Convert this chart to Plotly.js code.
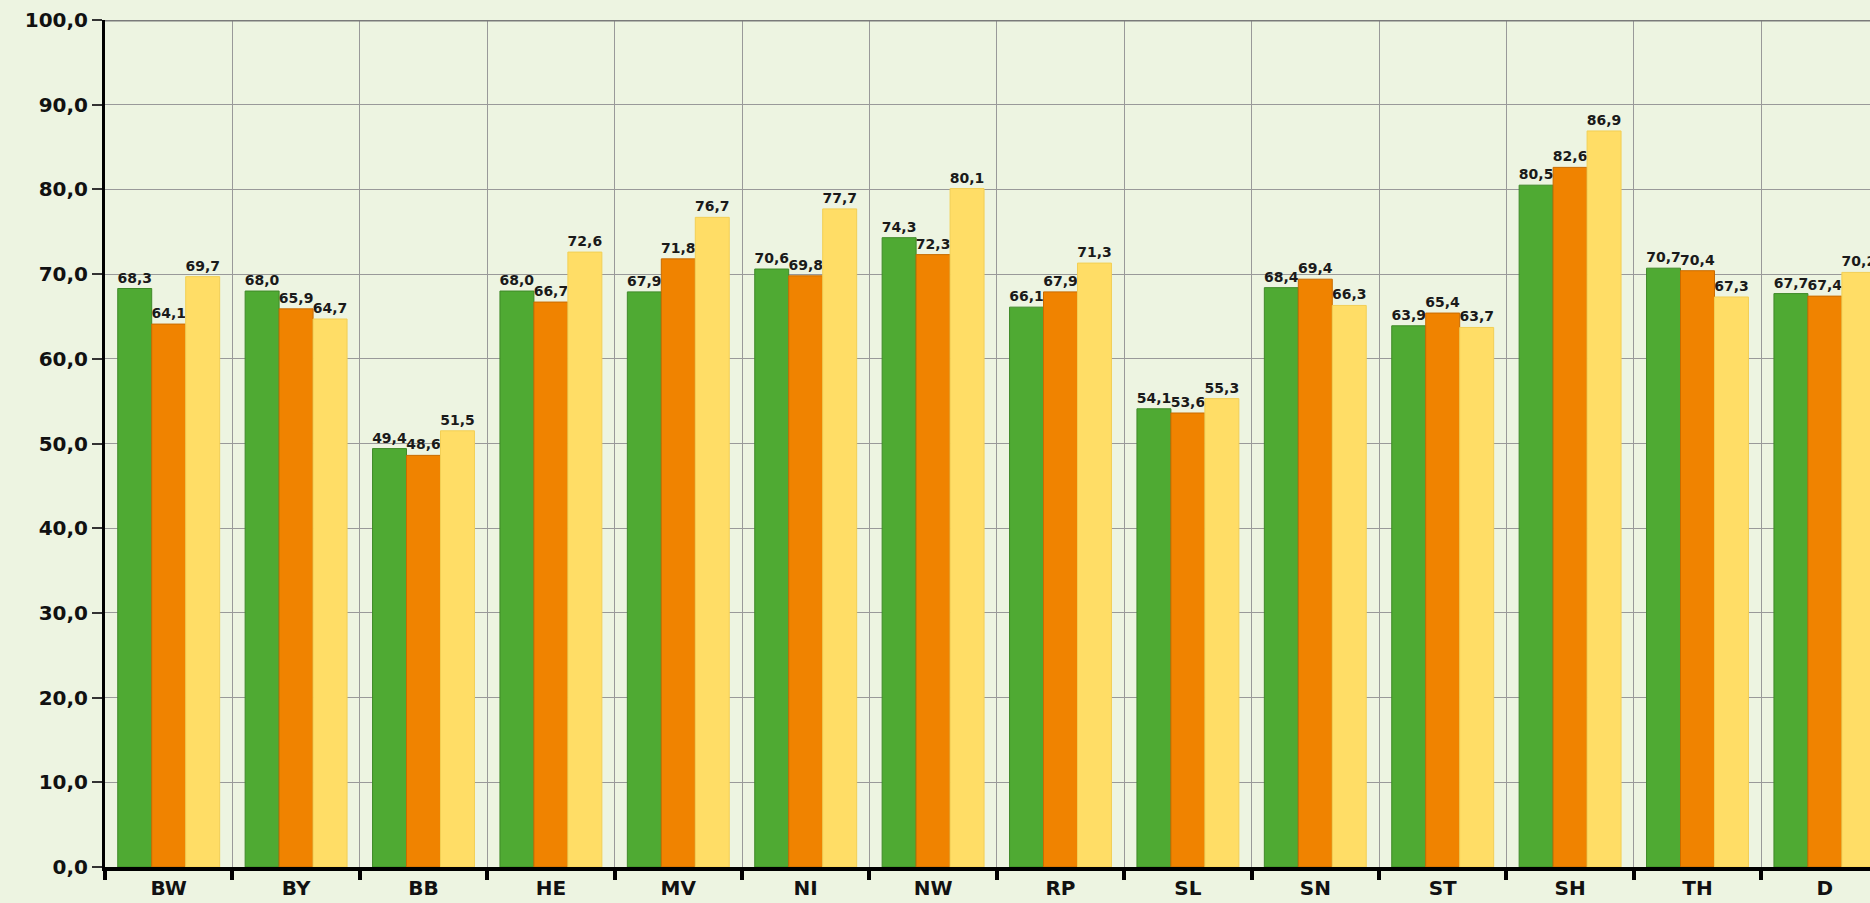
<!DOCTYPE html>
<html>
<head>
<meta charset="utf-8">
<script src="https://cdn.plot.ly/plotly-3.0.1.min.js"></script>
<style>
  html, body { margin: 0; padding: 0; background: #EDF4E1; overflow: hidden; }
  #chart { width: 1870px; height: 903px; }
</style>
</head>
<body>
<div id="chart"></div>
<script>
const categories = ["BW", "BY", "BB", "HE", "MV", "NI", "NW", "RP", "SL", "SN", "ST", "SH", "TH", "D"];
const seriesGreen  = [68.3, 68.0, 49.4, 68.0, 67.9, 70.6, 74.3, 66.1, 54.1, 68.4, 63.9, 80.5, 70.7, 67.7];
const seriesOrange = [64.1, 65.9, 48.6, 66.7, 71.8, 69.8, 72.3, 67.9, 53.6, 69.4, 65.4, 82.6, 70.4, 67.4];
const seriesYellow = [69.7, 64.7, 51.5, 72.6, 76.7, 77.7, 80.1, 71.3, 55.3, 66.3, 63.7, 86.9, 67.3, 70.2];
const yTicks = [0, 10, 20, 30, 40, 50, 60, 70, 80, 90, 100];

const labelFont = { family: "DejaVu Sans", size: 14, color: "#1a1a1a", weight: "bold" };

function barTrace(vals, fill, edge) {
  return {
    type: "bar",
    x: categories,
    y: vals,
    marker: { color: fill, line: { color: edge, width: 1 } },
    texttemplate: "%{y:.1f}",
    textposition: "outside",
    textfont: labelFont,
    constraintext: "none",
    cliponaxis: true,
    hoverinfo: "skip"
  };
}

const data = [
  barTrace(seriesGreen, "#4FAA33", "#3F8A28"),
  barTrace(seriesOrange, "#F08300", "#C96C00"),
  barTrace(seriesYellow, "#FFDD66", "#F2CF55")
];

const layout = {
  width: 1870,
  height: 903,
  paper_bgcolor: "#EDF4E1",
  plot_bgcolor: "#EDF4E1",
  separators: ",.",
  showlegend: false,
  barmode: "group",
  bargap: 0.2,
  bargroupgap: 0,
  margin: { l: 105, r: 0, t: 20, b: 36, pad: 0 },
  xaxis: {
    type: "category",
    range: [-0.5, 13.354],
    tickson: "boundaries",
    showgrid: true,
    gridcolor: "#999999",
    gridwidth: 1,
    showline: true,
    linecolor: "#000000",
    linewidth: 4,
    ticks: "outside",
    ticklen: 9,
    tickwidth: 4,
    tickcolor: "#000000",
    tickfont: { family: "DejaVu Sans", size: 20, color: "#111111", weight: "bold" },
    zeroline: false,
    fixedrange: true
  },
  yaxis: {
    range: [0, 100],
    tickvals: yTicks,
    tickformat: ".1f",
    showgrid: true,
    gridcolor: "#999999",
    gridwidth: 1,
    showline: true,
    linecolor: "#000000",
    linewidth: 3,
    ticks: "outside",
    ticklen: 10,
    tickwidth: 2,
    tickcolor: "#333333",
    tickfont: { family: "DejaVu Sans", size: 20, color: "#111111", weight: "bold" },
    zeroline: false,
    fixedrange: true
  },
  shapes: [
    { type: "line", xref: "paper", yref: "y", x0: 0, x1: 1, y0: 100, y1: 100,
      line: { color: "#7a7a7a", width: 3 } }
  ]
};

Plotly.newPlot("chart", data, layout, { displayModeBar: false, staticPlot: true });
</script>
</body>
</html>
